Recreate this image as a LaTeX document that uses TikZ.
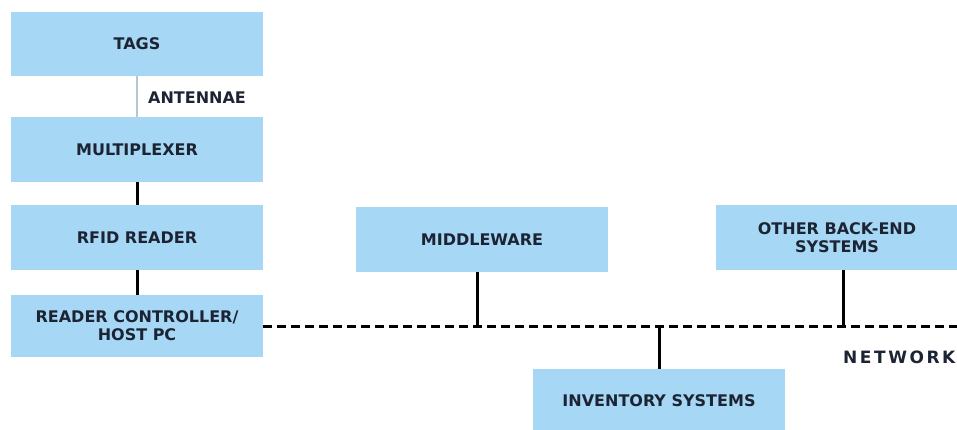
\documentclass[tikz,border=0pt]{standalone}
\usepackage{fontspec}
\newfontfamily\lblfont{DejaVu Sans}
\newfontfamily\netfont{DejaVu Sans}[LetterSpace=15]
\definecolor{boxblue}{RGB}{166,215,245}
\definecolor{txtnavy}{RGB}{28,36,52}
\definecolor{antgray}{RGB}{178,200,215}
\begin{document}
\begin{tikzpicture}[x=1pt,y=-1pt,
  box/.style={rectangle, fill=boxblue, draw=none, minimum width=252pt, minimum height=64pt,
    inner sep=0pt, align=center, text=txtnavy, font=\lblfont\bfseries\fontsize{16}{18}\selectfont},
  lbl/.style={text=txtnavy, font=\lblfont\bfseries\fontsize{16}{18}\selectfont, inner sep=0pt},
  link/.style={line width=3pt, black},
  antenna/.style={line width=2pt, antgray},
  net/.style={line width=3pt, black, dash pattern=on 9pt off 5pt}]
\useasboundingbox (0,0) rectangle (957,429);
\clip (0,0) rectangle (957,429);
\node[box] (tags) at (137,44) {TAGS};
\node[box, minimum height=65pt] (mux) at (137,149.5) {MULTIPLEXER};
\node[box, minimum height=65pt] (rfid) at (137,237.5) {RFID READER};
\node[box, minimum height=62pt] (ctrl) at (137,326) {READER CONTROLLER/\\HOST PC};
\node[box, minimum height=65pt] (mw) at (482,239.5) {MIDDLEWARE};
\node[box, minimum width=242pt, minimum height=65pt] (other) at (837,237.5) {OTHER BACK-END\\SYSTEMS};
\node[box, minimum height=64pt] (inv) at (659,401) {INVENTORY SYSTEMS};
\node[lbl, anchor=west] (antlbl) at (148,98) {ANTENNAE};
\node[lbl, anchor=west, font=\netfont\bfseries\fontsize{17}{19}\selectfont] (netlbl) at (843,357) {NETWORK};
\coordinate (netend) at (960,326);
\draw[antenna] (tags.south) -- (mux.north);
\draw[link] (mux.south) -- (rfid.north);
\draw[link] (rfid.south) -- (ctrl.north);
\draw[net] (ctrl.east) -- (netend);
\draw[link] ([xshift=-5pt]mw.south) -- ([xshift=-5pt]mw.south |- netend);
\draw[link] (inv.north) -- (inv.north |- netend);
\draw[link] ([xshift=6pt]other.south) -- ([xshift=6pt]other.south |- netend);
\end{tikzpicture}
\end{document}
